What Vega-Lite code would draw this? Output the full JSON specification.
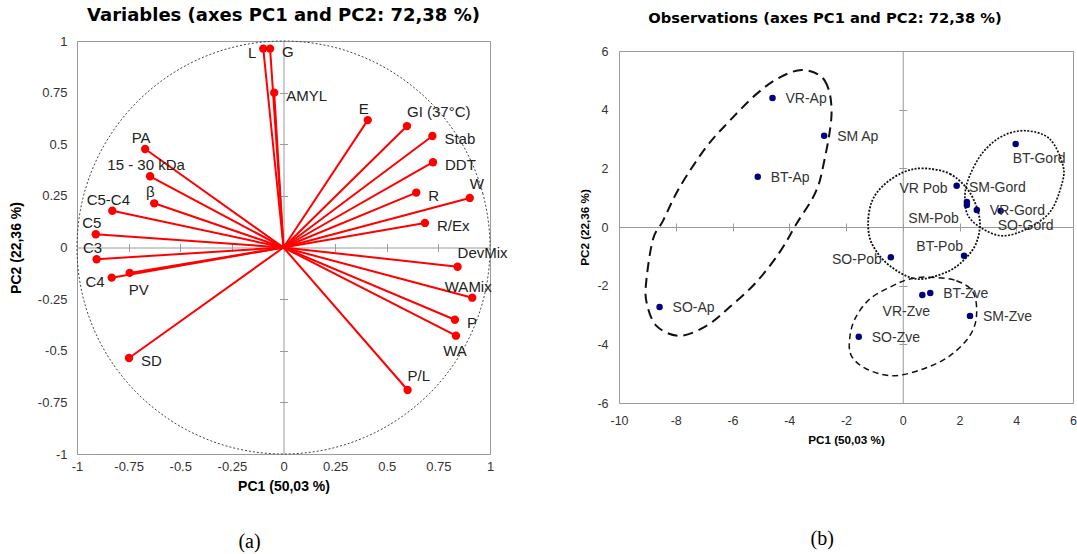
{
"$schema": "https://vega.github.io/schema/vega-lite/v6.json",
"background": "white",
"padding": {"left": 8, "top": 6, "right": 2, "bottom": 2},
"config": {
  "view": {"stroke": "#9a9a9a", "strokeWidth": 1},
  "font": "Liberation Sans",
  "axis": {"labelFont": "Liberation Sans", "titleFont": "Liberation Sans", "labelColor": "#333", "titleColor": "#000", "grid": false},
  "title": {"font": "Liberation Sans", "color": "#000"}
},
"datasets": {
  "vars": [
    {"n": "L", "x": -0.098, "y": 0.963, "p": "l"},
    {"n": "G", "x": -0.065, "y": 0.963, "p": "r"},
    {"n": "AMYL", "x": -0.045, "y": 0.75, "p": "r"},
    {"n": "E", "x": 0.408, "y": 0.617, "p": "t"},
    {"n": "GI (37°C)", "x": 0.598, "y": 0.588, "p": "tr"},
    {"n": "Stab", "x": 0.721, "y": 0.54, "p": "r"},
    {"n": "DDT", "x": 0.724, "y": 0.413, "p": "r"},
    {"n": "R", "x": 0.643, "y": 0.266, "p": "r"},
    {"n": "W", "x": 0.902, "y": 0.24, "p": "tr"},
    {"n": "R/Ex", "x": 0.685, "y": 0.119, "p": "r"},
    {"n": "DevMix", "x": 0.843, "y": -0.093, "p": "tr"},
    {"n": "WAMix", "x": 0.914, "y": -0.243, "p": "t"},
    {"n": "P", "x": 0.83, "y": -0.35, "p": "r"},
    {"n": "WA", "x": 0.835, "y": -0.427, "p": "b"},
    {"n": "P/L", "x": 0.601, "y": -0.69, "p": "tr"},
    {"n": "PA", "x": -0.67, "y": 0.477, "p": "t"},
    {"n": "15 - 30 kDa", "x": -0.646, "y": 0.345, "p": "t"},
    {"n": "β", "x": -0.626, "y": 0.214, "p": "t"},
    {"n": "C5-C4", "x": -0.829, "y": 0.178, "p": "t"},
    {"n": "C5", "x": -0.909, "y": 0.064, "p": "t"},
    {"n": "C3", "x": -0.905, "y": -0.057, "p": "t"},
    {"n": "C4", "x": -0.832, "y": -0.146, "p": "l"},
    {"n": "PV", "x": -0.745, "y": -0.123, "p": "br"},
    {"n": "SD", "x": -0.748, "y": -0.535, "p": "r"}
  ],
  "circle": [
    {"i": 0, "x": 1, "y": 0}, {"i": 1, "x": 0.966, "y": 0.259}, {"i": 2, "x": 0.866, "y": 0.5},
    {"i": 3, "x": 0.707, "y": 0.707}, {"i": 4, "x": 0.5, "y": 0.866}, {"i": 5, "x": 0.259, "y": 0.966},
    {"i": 6, "x": 0, "y": 1}, {"i": 7, "x": -0.259, "y": 0.966}, {"i": 8, "x": -0.5, "y": 0.866},
    {"i": 9, "x": -0.707, "y": 0.707}, {"i": 10, "x": -0.866, "y": 0.5}, {"i": 11, "x": -0.966, "y": 0.259},
    {"i": 12, "x": -1, "y": 0}, {"i": 13, "x": -0.966, "y": -0.259}, {"i": 14, "x": -0.866, "y": -0.5},
    {"i": 15, "x": -0.707, "y": -0.707}, {"i": 16, "x": -0.5, "y": -0.866}, {"i": 17, "x": -0.259, "y": -0.966},
    {"i": 18, "x": 0, "y": -1}, {"i": 19, "x": 0.259, "y": -0.966}, {"i": 20, "x": 0.5, "y": -0.866},
    {"i": 21, "x": 0.707, "y": -0.707}, {"i": 22, "x": 0.866, "y": -0.5}, {"i": 23, "x": 0.966, "y": -0.259}
  ],
  "obs": [
    {"n": "VR-Ap", "x": -4.59, "y": 4.40, "p": "r"},
    {"n": "SM Ap", "x": -2.77, "y": 3.11, "p": "r"},
    {"n": "BT-Ap", "x": -5.11, "y": 1.71, "p": "r"},
    {"n": "SO-Ap", "x": -8.57, "y": -2.73, "p": "r"},
    {"n": "BT-Gord", "x": 3.98, "y": 2.83, "p": "br"},
    {"n": "VR Pob", "x": 1.90, "y": 1.41, "p": "l"},
    {"n": "SM-Gord", "x": 2.26, "y": 0.85, "p": "tr"},
    {"n": "SM-Pob", "x": 2.26, "y": 0.75, "p": "bl"},
    {"n": "VR-Gord", "x": 2.61, "y": 0.58, "p": "r"},
    {"n": "SO-Gord", "x": 3.45, "y": 0.55, "p": "br"},
    {"n": "BT-Pob", "x": 2.16, "y": -0.98, "p": "tl"},
    {"n": "SO-Pob", "x": -0.42, "y": -1.03, "p": "l"},
    {"n": "BT-Zve", "x": 0.97, "y": -2.25, "p": "r"},
    {"n": "VR-Zve", "x": 0.69, "y": -2.32, "p": "b"},
    {"n": "SM-Zve", "x": 2.37, "y": -3.03, "p": "r"},
    {"n": "SO-Zve", "x": -1.55, "y": -3.74, "p": "r"}
  ],
  "ell": [
    {"g": "Ap", "i": 1, "x": -3.51, "y": 5.35}, {"g": "Ap", "i": 2, "x": -2.75, "y": 4.99},
    {"g": "Ap", "i": 3, "x": -2.51, "y": 3.85}, {"g": "Ap", "i": 4, "x": -2.81, "y": 2.05},
    {"g": "Ap", "i": 5, "x": -3.10, "y": 1.13}, {"g": "Ap", "i": 6, "x": -3.75, "y": 0.10},
    {"g": "Ap", "i": 7, "x": -4.33, "y": -0.85}, {"g": "Ap", "i": 8, "x": -5.16, "y": -1.88},
    {"g": "Ap", "i": 9, "x": -6.10, "y": -2.73}, {"g": "Ap", "i": 10, "x": -6.92, "y": -3.37},
    {"g": "Ap", "i": 11, "x": -7.86, "y": -3.71}, {"g": "Ap", "i": 12, "x": -8.68, "y": -3.37},
    {"g": "Ap", "i": 13, "x": -9.03, "y": -2.56}, {"g": "Ap", "i": 14, "x": -9.03, "y": -1.77},
    {"g": "Ap", "i": 15, "x": -8.80, "y": -0.41}, {"g": "Ap", "i": 16, "x": -8.45, "y": 0.21},
    {"g": "Ap", "i": 17, "x": -7.86, "y": 1.36}, {"g": "Ap", "i": 18, "x": -6.92, "y": 2.73},
    {"g": "Ap", "i": 19, "x": -6.10, "y": 3.62}, {"g": "Ap", "i": 20, "x": -5.16, "y": 4.53},
    {"g": "Ap", "i": 21, "x": -4.33, "y": 5.10},
    {"g": "Pob", "i": 1, "x": 0.72, "y": 2.00}, {"g": "Pob", "i": 2, "x": 1.66, "y": 1.81},
    {"g": "Pob", "i": 3, "x": 2.36, "y": 1.18}, {"g": "Pob", "i": 4, "x": 2.71, "y": 0.27},
    {"g": "Pob", "i": 5, "x": 2.60, "y": -0.52}, {"g": "Pob", "i": 6, "x": 2.19, "y": -1.09},
    {"g": "Pob", "i": 7, "x": 1.54, "y": -1.54}, {"g": "Pob", "i": 8, "x": 0.48, "y": -1.77},
    {"g": "Pob", "i": 9, "x": -0.46, "y": -1.32}, {"g": "Pob", "i": 10, "x": -1.05, "y": -0.64},
    {"g": "Pob", "i": 11, "x": -1.22, "y": 0.04}, {"g": "Pob", "i": 12, "x": -1.10, "y": 0.84},
    {"g": "Pob", "i": 13, "x": -0.69, "y": 1.41}, {"g": "Pob", "i": 14, "x": 0.01, "y": 1.86},
    {"g": "Gord", "i": 1, "x": 4.36, "y": 3.28}, {"g": "Gord", "i": 2, "x": 5.18, "y": 3.00},
    {"g": "Gord", "i": 3, "x": 5.65, "y": 2.09}, {"g": "Gord", "i": 4, "x": 5.59, "y": 1.41},
    {"g": "Gord", "i": 5, "x": 5.18, "y": 0.50}, {"g": "Gord", "i": 6, "x": 4.36, "y": -0.07},
    {"g": "Gord", "i": 7, "x": 3.53, "y": -0.30}, {"g": "Gord", "i": 8, "x": 2.83, "y": -0.07},
    {"g": "Gord", "i": 9, "x": 2.30, "y": 0.39}, {"g": "Gord", "i": 10, "x": 2.19, "y": 1.07},
    {"g": "Gord", "i": 11, "x": 2.36, "y": 1.75}, {"g": "Gord", "i": 12, "x": 2.83, "y": 2.55},
    {"g": "Gord", "i": 13, "x": 3.53, "y": 3.11},
    {"g": "Zve", "i": 1, "x": 0.95, "y": -1.71}, {"g": "Zve", "i": 2, "x": 1.89, "y": -1.83},
    {"g": "Zve", "i": 3, "x": 2.48, "y": -2.23}, {"g": "Zve", "i": 4, "x": 2.60, "y": -3.02},
    {"g": "Zve", "i": 5, "x": 2.36, "y": -3.71}, {"g": "Zve", "i": 6, "x": 1.66, "y": -4.39},
    {"g": "Zve", "i": 7, "x": 0.72, "y": -4.84}, {"g": "Zve", "i": 8, "x": -0.34, "y": -5.07},
    {"g": "Zve", "i": 9, "x": -1.28, "y": -4.84}, {"g": "Zve", "i": 10, "x": -1.81, "y": -4.39},
    {"g": "Zve", "i": 11, "x": -1.87, "y": -3.82}, {"g": "Zve", "i": 12, "x": -1.69, "y": -3.14},
    {"g": "Zve", "i": 13, "x": -1.16, "y": -2.45}, {"g": "Zve", "i": 14, "x": -0.34, "y": -2.00},
    {"g": "Zve", "i": 15, "x": 0.25, "y": -1.77}
  ]
},
"spacing": 70,
"hconcat": [
  {
    "title": {"text": "(a)", "orient": "bottom", "font": "Liberation Serif", "fontSize": 20, "fontWeight": "normal", "offset": 38, "frame": "bounds", "anchor": "middle", "dx": -9},
    "vconcat": [
      {
        "width": 413, "height": 413,
        "title": {"text": "Variables (axes PC1 and PC2: 72,38 %)", "font": "DejaVu Sans", "fontSize": 18, "fontWeight": "bold", "offset": 10, "anchor": "middle"},
        "resolve": {"scale": {"x": "shared", "y": "shared"}, "axis": {"x": "independent", "y": "independent"}},
        "layer": [
          {
            "data": {"name": "vars"},
            "mark": {"type": "rule", "color": "#ff0000", "strokeWidth": 2},
            "encoding": {
              "x": {"field": "x", "type": "quantitative", "scale": {"domain": [-1, 1], "nice": false, "zero": false},
                "axis": {"orient": "bottom", "title": "PC1 (50,03 %)", "values": [-1, -0.75, -0.5, -0.25, 0, 0.25, 0.5, 0.75, 1], "format": ".2~f", "labelExpr": "replace(datum.label, '\u2212', '-')", "domain": false, "ticks": false, "tickSize": 0, "labelPadding": 6, "labelFontSize": 13, "labelFlush": false, "labelOverlap": false, "titleFontSize": 14, "titleFontWeight": "bold", "titlePadding": 6}},
              "y": {"field": "y", "type": "quantitative", "scale": {"domain": [-1, 1], "nice": false, "zero": false},
                "axis": {"orient": "left", "title": "PC2 (22,36 %)", "values": [-1, -0.75, -0.5, -0.25, 0, 0.25, 0.5, 0.75, 1], "format": ".2~f", "labelExpr": "replace(datum.label, '\u2212', '-')", "domain": false, "ticks": false, "tickSize": 0, "labelPadding": 10, "labelFontSize": 13, "labelFlush": false, "labelOverlap": false, "titleFontSize": 14, "titleFontWeight": "bold", "titlePadding": 14}},
              "x2": {"datum": 0},
              "y2": {"datum": 0}
            }
          },
          {
            "data": {"name": "circle"},
            "mark": {"type": "line", "interpolate": "cardinal-closed", "stroke": "#444", "strokeWidth": 1, "strokeDash": [2, 2]},
            "encoding": {
              "x": {"field": "x", "type": "quantitative", "axis": {"orient": "bottom", "offset": -206.5, "labels": false, "title": null, "domain": true, "domainColor": "#9a9a9a", "ticks": true, "tickSize": 4, "tickColor": "#9a9a9a", "values": [-1, -0.75, -0.5, -0.25, 0, 0.25, 0.5, 0.75, 1]}},
              "y": {"field": "y", "type": "quantitative", "axis": {"orient": "left", "offset": -206.5, "labels": false, "title": null, "domain": true, "domainColor": "#9a9a9a", "ticks": true, "tickSize": 4, "tickColor": "#9a9a9a", "values": [-1, -0.75, -0.5, -0.25, 0, 0.25, 0.5, 0.75, 1]}},
              "order": {"field": "i", "type": "quantitative"}
            }
          },
          {
            "data": {"name": "vars"},
            "mark": {"type": "circle", "size": 70, "color": "#ff0000", "opacity": 1},
            "encoding": {
              "x": {"field": "x", "type": "quantitative", "axis": {"orient": "top", "offset": -206.5, "labels": false, "title": null, "domain": false, "ticks": true, "tickSize": 4, "tickColor": "#9a9a9a", "values": [-1, -0.75, -0.5, -0.25, 0, 0.25, 0.5, 0.75, 1]}},
              "y": {"field": "y", "type": "quantitative", "axis": {"orient": "right", "offset": -206.5, "labels": false, "title": null, "domain": false, "ticks": true, "tickSize": 4, "tickColor": "#9a9a9a", "values": [-1, -0.75, -0.5, -0.25, 0, 0.25, 0.5, 0.75, 1]}}
            }
          },
          {
            "data": {"name": "vars"},
            "transform": [{"filter": "datum.p == 'r'"}],
            "mark": {"type": "text", "align": "left", "baseline": "middle", "dx": 12, "dy": 3, "fontSize": 15, "color": "#222"},
            "encoding": {"x": {"field": "x", "type": "quantitative", "axis": null}, "y": {"field": "y", "type": "quantitative", "axis": null}, "text": {"field": "n"}}
          },
          {
            "data": {"name": "vars"},
            "transform": [{"filter": "datum.p == 'l'"}],
            "mark": {"type": "text", "align": "right", "baseline": "middle", "dx": -7, "dy": 4, "fontSize": 15, "color": "#222"},
            "encoding": {"x": {"field": "x", "type": "quantitative", "axis": null}, "y": {"field": "y", "type": "quantitative", "axis": null}, "text": {"field": "n"}}
          },
          {
            "data": {"name": "vars"},
            "transform": [{"filter": "datum.p == 't'"}],
            "mark": {"type": "text", "align": "center", "baseline": "middle", "dx": -4, "dy": -11, "fontSize": 15, "color": "#222"},
            "encoding": {"x": {"field": "x", "type": "quantitative", "axis": null}, "y": {"field": "y", "type": "quantitative", "axis": null}, "text": {"field": "n"}}
          },
          {
            "data": {"name": "vars"},
            "transform": [{"filter": "datum.p == 'tr'"}],
            "mark": {"type": "text", "align": "left", "baseline": "middle", "dx": 0, "dy": -14, "fontSize": 15, "color": "#222"},
            "encoding": {"x": {"field": "x", "type": "quantitative", "axis": null}, "y": {"field": "y", "type": "quantitative", "axis": null}, "text": {"field": "n"}}
          },
          {
            "data": {"name": "vars"},
            "transform": [{"filter": "datum.p == 'b'"}],
            "mark": {"type": "text", "align": "center", "baseline": "middle", "dx": -1, "dy": 15, "fontSize": 15, "color": "#222"},
            "encoding": {"x": {"field": "x", "type": "quantitative", "axis": null}, "y": {"field": "y", "type": "quantitative", "axis": null}, "text": {"field": "n"}}
          },
          {
            "data": {"name": "vars"},
            "transform": [{"filter": "datum.p == 'br'"}],
            "mark": {"type": "text", "align": "left", "baseline": "middle", "dx": -1, "dy": 17, "fontSize": 15, "color": "#222"},
            "encoding": {"x": {"field": "x", "type": "quantitative", "axis": null}, "y": {"field": "y", "type": "quantitative", "axis": null}, "text": {"field": "n"}}
          }
        ]
      }
    ]
  },
  {
    "title": {"text": "(b)", "orient": "bottom", "font": "Liberation Serif", "fontSize": 20, "fontWeight": "normal", "offset": 82, "frame": "bounds", "anchor": "middle", "dx": -6},
    "spacing": 2,
    "vconcat": [
      {
        "width": 454, "height": 1,
        "data": {"values": []},
        "mark": {"type": "point", "opacity": 0},
        "view": {"stroke": null},
        "title": {"text": "Observations (axes PC1 and PC2: 72,38 %)", "font": "DejaVu Sans", "fontSize": 14.7, "fontWeight": "bold", "offset": 15, "anchor": "middle", "frame": "group", "dx": -21}
      },
      {
        "width": 454, "height": 352,
        "resolve": {"scale": {"x": "shared", "y": "shared"}, "axis": {"x": "independent", "y": "independent"}},
        "layer": [
          {
            "data": {"name": "ell"},
            "mark": {"type": "line", "interpolate": "cardinal-closed", "stroke": "#111"},
            "encoding": {
              "x": {"field": "x", "type": "quantitative", "scale": {"domain": [-10, 6], "nice": false, "zero": false},
                "axis": {"orient": "bottom", "offset": -176, "labels": false, "title": null, "domain": true, "domainColor": "#9a9a9a", "ticks": true, "tickSize": 4, "tickColor": "#9a9a9a", "values": [-10, -8, -6, -4, -2, 0, 2, 4, 6]}},
              "y": {"field": "y", "type": "quantitative", "scale": {"domain": [-6, 6], "nice": false, "zero": false},
                "axis": {"orient": "left", "offset": -283.75, "labels": false, "title": null, "domain": true, "domainColor": "#9a9a9a", "ticks": true, "tickSize": 4, "tickColor": "#9a9a9a", "values": [-6, -4, -2, 0, 2, 4, 6]}},
              "detail": {"field": "g"},
              "order": {"field": "i", "type": "quantitative"},
              "strokeDash": {"field": "g", "type": "nominal", "scale": {"domain": ["Ap", "Pob", "Gord", "Zve"], "range": [[10, 6], [2, 1.5], [2, 1.5], [6, 4]]}, "legend": null},
              "strokeWidth": {"field": "g", "type": "nominal", "scale": {"domain": ["Ap", "Pob", "Gord", "Zve"], "range": [2, 1.5, 1.5, 1.5]}, "legend": null}
            }
          },
          {
            "data": {"name": "obs"},
            "mark": {"type": "circle", "size": 42, "color": "#00007f", "opacity": 1},
            "encoding": {
              "x": {"field": "x", "type": "quantitative",
                "axis": {"orient": "bottom", "title": "PC1 (50,03 %)", "values": [-10, -8, -6, -4, -2, 0, 2, 4, 6], "labelExpr": "replace(datum.label, '\u2212', '-')", "domain": false, "ticks": false, "tickSize": 0, "labelPadding": 11, "labelFontSize": 12.5, "labelFlush": false, "labelOverlap": false, "titleFontSize": 11.7, "titleFontWeight": "bold", "titlePadding": 8}},
              "y": {"field": "y", "type": "quantitative",
                "axis": {"orient": "left", "title": "PC2 (22,36 %)", "values": [-6, -4, -2, 0, 2, 4, 6], "labelExpr": "replace(datum.label, '\u2212', '-')", "domain": false, "ticks": false, "tickSize": 0, "labelPadding": 11, "labelFontSize": 12.5, "labelFlush": false, "labelOverlap": false, "titleFontSize": 11.7, "titleFontWeight": "bold", "titlePadding": 6}}
            }
          },
          {
            "data": {"name": "obs"},
            "transform": [{"filter": "datum.p == 'r'"}],
            "mark": {"type": "text", "align": "left", "baseline": "middle", "dx": 13, "dy": 1, "fontSize": 14, "color": "#333"},
            "encoding": {
              "x": {"field": "x", "type": "quantitative", "axis": {"orient": "top", "offset": -176, "labels": false, "title": null, "domain": false, "ticks": true, "tickSize": 4, "tickColor": "#9a9a9a", "values": [-10, -8, -6, -4, -2, 0, 2, 4, 6]}},
              "y": {"field": "y", "type": "quantitative", "axis": {"orient": "right", "offset": -170.25, "labels": false, "title": null, "domain": false, "ticks": true, "tickSize": 4, "tickColor": "#9a9a9a", "values": [-6, -4, -2, 0, 2, 4, 6]}},
              "text": {"field": "n"}
            }
          },
          {
            "data": {"name": "obs"},
            "transform": [{"filter": "datum.p == 'br'"}],
            "mark": {"type": "text", "align": "left", "baseline": "middle", "dx": -3, "dy": 15, "fontSize": 14, "color": "#333"},
            "encoding": {"x": {"field": "x", "type": "quantitative", "axis": null}, "y": {"field": "y", "type": "quantitative", "axis": null}, "text": {"field": "n"}}
          },
          {
            "data": {"name": "obs"},
            "transform": [{"filter": "datum.p == 'tr'"}],
            "mark": {"type": "text", "align": "left", "baseline": "middle", "dx": 2, "dy": -14, "fontSize": 14, "color": "#333"},
            "encoding": {"x": {"field": "x", "type": "quantitative", "axis": null}, "y": {"field": "y", "type": "quantitative", "axis": null}, "text": {"field": "n"}}
          },
          {
            "data": {"name": "obs"},
            "transform": [{"filter": "datum.p == 'l'"}],
            "mark": {"type": "text", "align": "right", "baseline": "middle", "dx": -9, "dy": 3, "fontSize": 14, "color": "#333"},
            "encoding": {"x": {"field": "x", "type": "quantitative", "axis": null}, "y": {"field": "y", "type": "quantitative", "axis": null}, "text": {"field": "n"}}
          },
          {
            "data": {"name": "obs"},
            "transform": [{"filter": "datum.p == 'bl'"}],
            "mark": {"type": "text", "align": "right", "baseline": "middle", "dx": -8, "dy": 14, "fontSize": 14, "color": "#333"},
            "encoding": {"x": {"field": "x", "type": "quantitative", "axis": null}, "y": {"field": "y", "type": "quantitative", "axis": null}, "text": {"field": "n"}}
          },
          {
            "data": {"name": "obs"},
            "transform": [{"filter": "datum.p == 'tl'"}],
            "mark": {"type": "text", "align": "right", "baseline": "middle", "dx": -1, "dy": -9, "fontSize": 14, "color": "#333"},
            "encoding": {"x": {"field": "x", "type": "quantitative", "axis": null}, "y": {"field": "y", "type": "quantitative", "axis": null}, "text": {"field": "n"}}
          },
          {
            "data": {"name": "obs"},
            "transform": [{"filter": "datum.p == 'b'"}],
            "mark": {"type": "text", "align": "center", "baseline": "middle", "dx": -16, "dy": 17, "fontSize": 14, "color": "#333"},
            "encoding": {"x": {"field": "x", "type": "quantitative", "axis": null}, "y": {"field": "y", "type": "quantitative", "axis": null}, "text": {"field": "n"}}
          }
        ]
      }
    ]
  }
]
}
